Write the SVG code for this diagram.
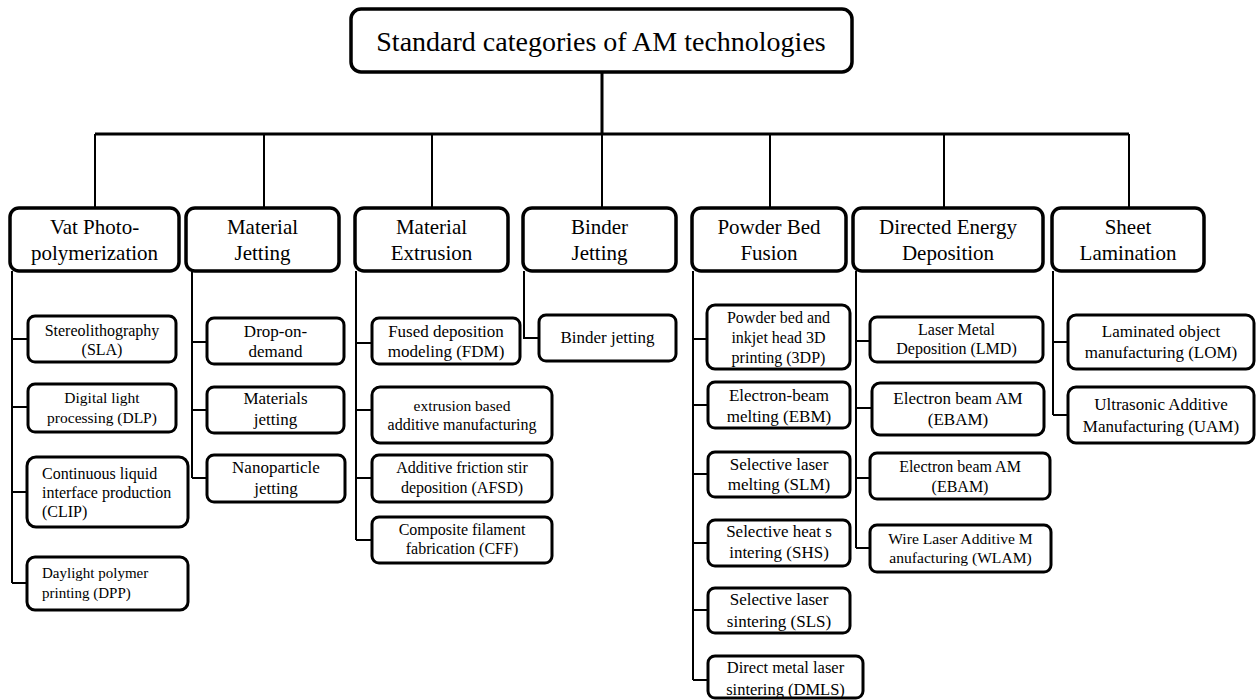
<svg xmlns="http://www.w3.org/2000/svg" width="1258" height="700" viewBox="0 0 1258 700">
<style>
rect{fill:#fff;stroke:#000}
.root rect{stroke-width:3.5}
.cat rect{stroke-width:3.5}
.ch rect{stroke-width:3}
text{font-family:'Liberation Serif', serif;fill:#000;text-anchor:middle}
.cat text{font-size:21px}
.ch text{font-size:16px}
.s17 text{font-size:17px}
.l text{text-anchor:start}
#conn path{fill:none;stroke:#000;stroke-width:2}
#conn .thick{stroke-width:3}
</style>
<rect x="0" y="0" width="1258" height="700" style="fill:#fff;stroke:none"/>
<g id="conn">
<path class="thick" d="M95 134H1129M602 72V134"/>
<path d="M95 134V208M264 134V208M432 134V208M602 134V208M770 134V208M944 134V208M1129 134V208"/>
<path d="M12 271V583M12 339H28M12 407H28M12 492H27M12 583H27"/>
<path d="M192 271V478M192 342H207M192 410H207M192 478H207"/>
<path d="M356 271V540M356 343H372M356 410H372M356 478H372M356 540H372"/>
<path d="M524 271V338H539"/>
<path d="M693 271V680M693 339H707M693 405H708M693 474H708M693 543H708M693 610H708M693 680H708"/>
<path d="M856 271V548M856 341H870M856 408H872M856 478H870M856 548H870"/>
<path d="M1053 271V415M1053 342H1068M1053 415H1068"/>
</g>
<g font-family="Liberation Serif, serif">
<g id="root" class="root"><rect x="351" y="9" width="501" height="63" rx="10"/><text x="601" y="51" style="font-size:28px">Standard categories of AM technologies</text></g>
<g id="cat-vat" class="cat"><rect x="10" y="208" width="169" height="63" rx="9"/><text x="94.5" y="234">Vat Photo-</text><text x="94.5" y="260">polymerization</text></g>
<g id="cat-mj" class="cat"><rect x="186" y="208" width="153" height="63" rx="9"/><text x="262.5" y="234">Material</text><text x="262.5" y="260">Jetting</text></g>
<g id="cat-me" class="cat"><rect x="355" y="208" width="153" height="63" rx="9"/><text x="431.5" y="234">Material</text><text x="431.5" y="260">Extrusion</text></g>
<g id="cat-bj" class="cat"><rect x="523" y="208" width="153" height="63" rx="9"/><text x="599.5" y="234">Binder</text><text x="599.5" y="260">Jetting</text></g>
<g id="cat-pbf" class="cat"><rect x="692" y="208" width="154" height="63" rx="9"/><text x="769" y="234">Powder Bed</text><text x="769" y="260">Fusion</text></g>
<g id="cat-ded" class="cat"><rect x="853" y="208" width="190" height="63" rx="9"/><text x="948" y="234">Directed Energy</text><text x="948" y="260">Deposition</text></g>
<g id="cat-sl" class="cat"><rect x="1052" y="208" width="152" height="63" rx="9"/><text x="1128" y="234">Sheet</text><text x="1128" y="260">Lamination</text></g>

<g id="sla" class="ch"><rect x="28" y="316" width="148" height="46" rx="7"/><text x="102" y="336">Stereolithography</text><text x="102" y="355">(SLA)</text></g>
<g id="dlp" class="ch"><rect x="28" y="384" width="148" height="48" rx="7"/><text x="102" y="403" style="font-size:15.5px">Digital light</text><text x="102" y="423" style="font-size:15.5px">processing (DLP)</text></g>
<g id="clip" class="ch l"><rect x="27" y="457" width="161" height="70" rx="9"/><text x="42" y="479">Continuous liquid</text><text x="42" y="498">interface production</text><text x="42" y="517">(CLIP)</text></g>
<g id="dpp" class="ch l"><rect x="27" y="557" width="161" height="53" rx="8"/><text x="42" y="578" style="font-size:15px">Daylight polymer</text><text x="42" y="598" style="font-size:15px">printing (DPP)</text></g>

<g id="dod" class="ch s17"><rect x="207" y="318" width="137" height="46" rx="7"/><text x="275.5" y="337">Drop-on-</text><text x="275.5" y="357">demand</text></g>
<g id="mjt" class="ch s17"><rect x="207" y="387" width="137" height="46" rx="7"/><text x="275.5" y="404">Materials</text><text x="275.5" y="425">jetting</text></g>
<g id="nano" class="ch s17"><rect x="207" y="455" width="138" height="47" rx="7"/><text x="276" y="473">Nanoparticle</text><text x="276" y="494">jetting</text></g>

<g id="fdm" class="ch s17"><rect x="372" y="318" width="148" height="46" rx="7"/><text x="446" y="337">Fused deposition</text><text x="446" y="357">modeling (FDM)</text></g>
<g id="ebm-ext" class="ch"><rect x="372" y="387" width="180" height="56" rx="8"/><text x="462" y="411" style="font-size:15.5px">extrusion based</text><text x="462" y="430">additive manufacturing</text></g>
<g id="afsd" class="ch"><rect x="372" y="455" width="180" height="47" rx="7"/><text x="462" y="473">Additive friction stir</text><text x="462" y="493">deposition (AFSD)</text></g>
<g id="cff" class="ch"><rect x="372" y="517" width="180" height="46" rx="7"/><text x="462" y="535">Composite filament</text><text x="462" y="554">fabrication (CFF)</text></g>

<g id="bjt" class="ch s17"><rect x="539" y="315" width="137" height="46" rx="7"/><text x="607.5" y="343">Binder jetting</text></g>

<g id="3dp" class="ch"><rect x="707" y="305" width="143" height="64" rx="8"/><text x="778.5" y="323">Powder bed and</text><text x="778.5" y="343">inkjet head 3D</text><text x="778.5" y="363">printing (3DP)</text></g>
<g id="ebm" class="ch s17"><rect x="708" y="382" width="142" height="46" rx="7"/><text x="779" y="401">Electron-beam</text><text x="779" y="422">melting (EBM)</text></g>
<g id="slm" class="ch s17"><rect x="708" y="452" width="142" height="45" rx="7"/><text x="779" y="470">Selective laser</text><text x="779" y="490">melting (SLM)</text></g>
<g id="shs" class="ch s17"><rect x="708" y="520" width="142" height="46" rx="7"/><text x="779" y="537">Selective heat s</text><text x="779" y="558">intering (SHS)</text></g>
<g id="sls" class="ch s17"><rect x="708" y="588" width="142" height="45" rx="7"/><text x="779" y="605">Selective laser</text><text x="779" y="627">sintering (SLS)</text></g>
<g id="dmls" class="ch"><rect x="708" y="656" width="155" height="42" rx="7"/><text x="785.5" y="673" style="font-size:16.5px">Direct metal laser</text><text x="785.5" y="695" style="font-size:16.5px">sintering (DMLS)</text></g>

<g id="lmd" class="ch"><rect x="870" y="317" width="173" height="45" rx="7"/><text x="956.5" y="335">Laser Metal</text><text x="956.5" y="354">Deposition (LMD)</text></g>
<g id="ebam1" class="ch s17"><rect x="872" y="383" width="172" height="52" rx="8"/><text x="958" y="404">Electron beam AM</text><text x="958" y="425">(EBAM)</text></g>
<g id="ebam2" class="ch"><rect x="870" y="453" width="180" height="46" rx="7"/><text x="960" y="472">Electron beam AM</text><text x="960" y="492">(EBAM)</text></g>
<g id="wlam" class="ch"><rect x="870" y="525" width="181" height="47" rx="7"/><text x="960.5" y="544" style="font-size:15.6px">Wire Laser Additive M</text><text x="960.5" y="563" style="font-size:15.6px">anufacturing (WLAM)</text></g>

<g id="lom" class="ch s17"><rect x="1068" y="315" width="186" height="54" rx="8"/><text x="1161" y="337">Laminated object</text><text x="1161" y="358">manufacturing (LOM)</text></g>
<g id="uam" class="ch s17"><rect x="1068" y="387" width="186" height="56" rx="8"/><text x="1161" y="410">Ultrasonic Additive</text><text x="1161" y="432">Manufacturing (UAM)</text></g>
</g>
</svg>
